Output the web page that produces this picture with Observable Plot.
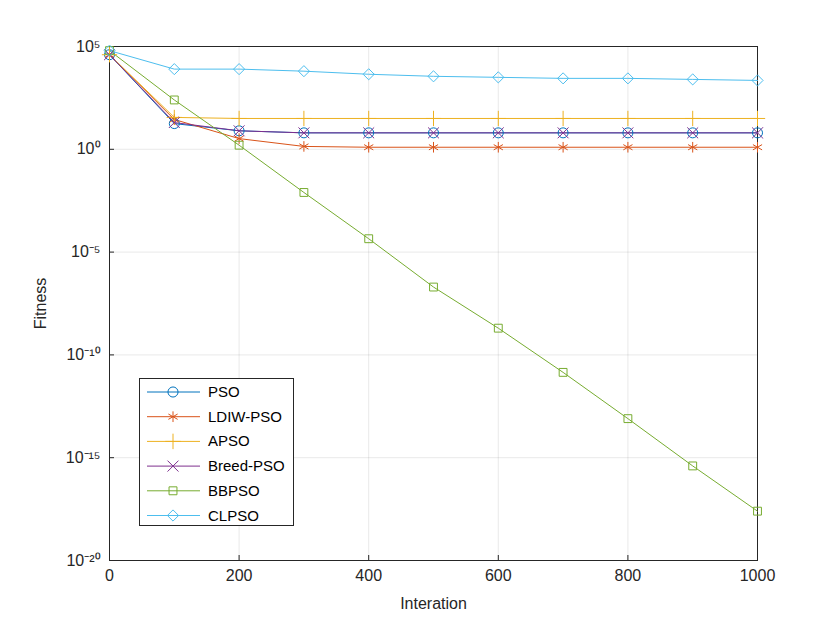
<!DOCTYPE html>
<html><head><meta charset="utf-8">
<script src="https://cdn.jsdelivr.net/npm/d3@7"></script>
<script src="https://cdn.jsdelivr.net/npm/@observablehq/plot@0.6"></script>
<style>
body{margin:0;background:#fff;font-family:"Liberation Sans",Arial,sans-serif}
#wrap{position:relative;width:840px;height:630px}
#legend{position:absolute;left:139px;top:378px;width:155px;height:148px;background:#fff;border:1px solid #262626;box-sizing:border-box}
</style></head>
<body><div id="wrap"><div id="chart"></div><svg id="legend"></svg></div>
<script>
const iterations = [0, 100, 200, 300, 400, 500, 600, 700, 800, 900, 1000]
const names = ['PSO', 'LDIW-PSO', 'APSO', 'Breed-PSO', 'BBPSO', 'CLPSO']
const colors = ['#0072BD', '#D95319', '#EDB120', '#7E2F8E', '#77AC30', '#4DBEEE']
const symbols = ['circle', 'asterisk', 'plus', 'times', 'square2', 'diamond2']
// log10 of fitness
const pso = [4.6, 1.25, 0.9, 0.8, 0.8, 0.8, 0.8, 0.8, 0.8, 0.8, 0.8]
const ldiw = [4.6, 1.45, 0.52, 0.14, 0.1, 0.1, 0.1, 0.1, 0.1, 0.1, 0.1]
const apso = [4.6, 1.55, 1.5, 1.5, 1.5, 1.5, 1.5, 1.5, 1.5, 1.5, 1.5]
const breed = [4.6, 1.3, 0.9, 0.8, 0.8, 0.8, 0.8, 0.8, 0.8, 0.8, 0.8]
const bbpso = [4.8, 2.4, 0.2, -2.1, -4.35, -6.7, -8.7, -10.85, -13.1, -15.4, -17.6]
const clpso = [4.8, 3.9, 3.9, 3.8, 3.65, 3.55, 3.5, 3.45, 3.45, 3.4, 3.35]
const yTicks = [-20, -15, -10, -5, 0, 5]

const series = [pso, ldiw, apso, breed, bbpso, clpso]
const data = []
series.forEach((s, k) => s.forEach((v, i) => data.push({x: iterations[i], y: Math.pow(10, v), name: names[k]})))
const sup = {'-':'⁻','0':'⁰','1':'¹','2':'²','3':'³','4':'⁴','5':'⁵','6':'⁶','7':'⁷','8':'⁸','9':'⁹'}
const fmt = d => {
  const e = Math.round(Math.log10(d))
  return '10' + String(e).split('').map(c => sup[c]).join('')
}
const d3sym = {circle: d3.symbolCircle, asterisk: d3.symbolAsterisk, plus: d3.symbolPlus, times: d3.symbolTimes, square2: d3.symbolSquare2, diamond2: d3.symbolDiamond2}

let chart = Plot.plot({
  width: 840, height: 630,
  marginLeft: 109, marginRight: 83, marginTop: 46, marginBottom: 70,
  style: {fontSize: '16px', fontFamily: '"Liberation Sans",Arial,sans-serif', color: '#262626'},
  x: {domain: [0, 1000], ticks: d3.range(0, 1001, 200), tickFormat: d3.format('d'), grid: true, label: 'Interation', labelArrow: 'none', labelAnchor: 'center', labelOffset: 48, tickSize: -5},
  y: {type: 'log', domain: [1e-20, 1e5], ticks: yTicks.map(e => Math.pow(10, e)), tickFormat: fmt, grid: true, label: 'Fitness', labelArrow: 'none', labelAnchor: 'center', labelOffset: 75, tickSize: -5},
  color: {domain: names, range: colors},
  symbol: {domain: names, range: symbols},
  marks: [
    Plot.frame({stroke: '#262626'}),
    Plot.line(data, {x: 'x', y: 'y', z: 'name', stroke: 'name', strokeWidth: 1}),
    Plot.dot(data, {x: 'x', y: 'y', stroke: 'name', symbol: 'name', r: 5, fill: 'none', strokeWidth: 1})
  ]
})
d3.select('#chart').append(() => chart)

const leg = d3.select('#legend')
names.forEach((n, k) => {
  const y = 13 + k * 24.7
  leg.append('line').attr('x1', 7).attr('x2', 60).attr('y1', y).attr('y2', y).attr('stroke', colors[k])
  leg.append('path').attr('transform', `translate(33,${y})`)
    .attr('d', d3.symbol(d3sym[symbols[k]], 80)())
    .attr('fill', 'none').attr('stroke', colors[k])
  leg.append('text').attr('x', 68).attr('y', y + 5).text(n)
    .attr('font-size', 15).attr('fill', '#000').attr('font-family', '"Liberation Sans",Arial,sans-serif')
})
</script></body></html>
